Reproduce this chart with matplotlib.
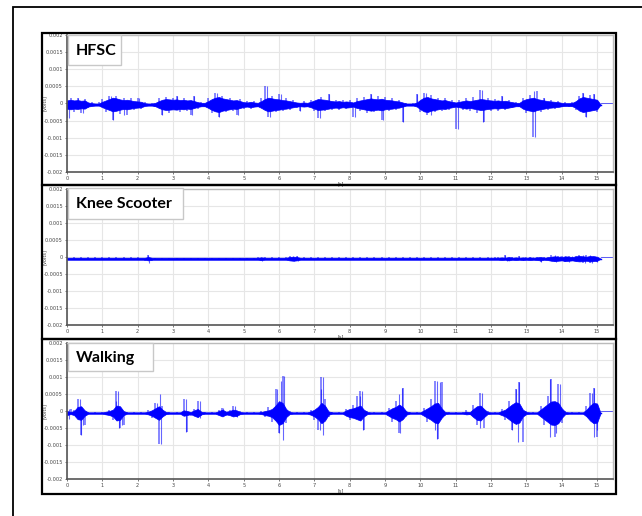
import numpy as np
import matplotlib
matplotlib.use("Agg")
import matplotlib.pyplot as plt
from matplotlib.patches import Rectangle

W, H = 642, 516

# ---------------- data ----------------
# envelope grid: 0.0 .. 15.1 s in 0.1 s steps; values in 0.01 mV
t_grid = np.round(np.arange(0, 152) * 0.1, 1)

# dense core half-amplitude per 0.1 s bin
hfsc_core = [12, 14, 12, 13, 11, 12, 6, 4, 3, 3,
             8, 12, 16, 20, 18, 15, 13, 14, 12, 10,
             9, 8, 4, 3, 3, 5, 10, 14, 16, 15,
             14, 15, 13, 14, 12, 13, 10, 7, 5, 5,
             10, 16, 20, 22, 18, 16, 14, 12, 13, 10,
             7, 6, 8, 6, 5, 10, 16, 20, 18, 16,
             15, 13, 12, 10, 8, 6, 5, 6, 5, 8,
             12, 16, 15, 14, 12, 10, 9, 10, 8, 9,
             8, 6, 10, 12, 14, 16, 18, 16, 15, 17,
             14, 13, 12, 10, 9, 6, 3, 3, 3, 6,
             14, 20, 22, 18, 16, 14, 12, 13, 10, 8,
             6, 8, 10, 12, 10, 12, 14, 16, 15, 13,
             12, 11, 12, 10, 11, 9, 7, 5, 5, 12,
             16, 18, 20, 16, 14, 12, 10, 9, 8, 7,
             5, 4, 4, 5, 10, 18, 22, 20, 18, 16,
             14, 0]
# largest excursion (signed) per 0.1 s bin
hfsc_peak = [-40, 20, -22, 18, -25, 15, -10, 6, -5, 6,
             15, -22, 25, -45, 24, -28, 20, -30, 18, -15,
             20, -14, 6, -5, 5, -8, 18, -30, 22, -25,
             20, 25, -22, 20, -18, -30, 25, -12, 8, -8,
             18, -25, 35, -35, 25, -22, 20, -18, -30, 15,
             -12, 10, -14, 10, -8, 18, 55, -35, 25, -22,
             30, -20, 18, -16, 12, -10, -20, 10, -8, 14,
             -20, -40, 22, -20, 30, -15, 14, -16, 12, -14,
             12, -37, 18, -20, 22, -25, 30, -22, 24, -45,
             22, -20, 18, -16, 14, -50, 5, -5, 5, 30,
             -22, 35, -30, 28, -22, 20, -18, 20, -15, 12,
             -70, 14, -16, 20, -18, 22, -24, 42, -50, 20,
             -18, 16, -20, 25, -16, 14, -10, 8, -8, 18,
             -25, 28, -95, 40, -22, 20, -16, 14, -12, 10,
             -8, 6, -6, 8, -16, 25, 35, -35, 28, 30,
             -22, 0]
# isolated spikes (s, mV)
hfsc_spike_t = [0.07, 0.3, 0.45, 1.25, 1.3, 1.6, 2.05, 2.7, 3.1, 3.55, 3.6, 4.25, 4.3,
                4.85, 5.65, 5.75, 6.05, 6.6, 7.15, 7.4, 8.15, 8.6, 8.95, 9.52, 9.9,
                10.15, 10.3, 11.07, 11.74, 11.76, 12.3, 13.22, 13.23, 13.5, 14.6,
                14.7, 14.9]
hfsc_spike_v = [-0.4, 0.2, -0.25, 0.25, -0.45, -0.3, 0.2, -0.3, 0.25, -0.3, 0.25, 0.35,
                -0.35, -0.3, 0.55, -0.35, 0.3, -0.2, -0.4, 0.3, -0.37, 0.3, -0.45,
                -0.5, 0.3, 0.35, -0.3, -0.7, 0.42, -0.5, 0.25, 0.4, -0.95, 0.2, 0.35,
                -0.35, 0.3]

knee_core = [3] * 22 + [3, 5, 3] + [3] * 29 + [3, 4, 3] + [3] * 6 + [5, 6, 5] + [3] * 56 + \
            [3, 4, 3, 5, 3, 4, 3, 4, 3, 4, 3, 4, 5, 3, 4, 6, 7, 6, 5, 7, 6, 5, 7, 8, 7, 6, 8, 7, 6, 0]
knee_peak = [4, -3] * 11 + [-6, 12, -8] + [3, -4] * 14 + [3] + [5, -6, 5] + [-3, 4] * 3 + \
            [8, -8, 7] + [-3, 4] * 28 + \
            [5, -5, 10, -8, 6, -5, 7, -5, 4, 6, -4, 6, -10, 6, 5, 10, -10, 8, 8, -10,
             8, -7, 8, 10, -12, 12, -12, 8, -10, 0]
knee_spike_t = [2.3, 2.31, 5.5, 5.51, 6.4, 6.42, 6.5, 6.55, 12.0, 12.4, 12.45, 12.6,
                12.8, 12.9, 13.2, 13.4, 13.5, 13.8, 13.85, 13.95, 14.1, 14.2, 14.3,
                14.4, 14.5, 14.6, 14.65, 14.8, 14.85, 14.95, 15.0]
knee_spike_v = [0.12, -0.12, 0.06, -0.06, 0.08, -0.08, 0.07, -0.08, 0.05, 0.1, -0.08,
                0.06, 0.07, -0.05, 0.06, -0.1, 0.06, 0.1, -0.1, 0.08, 0.08, -0.1, 0.08,
                -0.07, 0.08, 0.1, -0.12, 0.12, -0.12, 0.08, -0.1]

walk_core = [6, 3, 6, 18, 20, 8, 2, 2, 2, 2,
             2, 4, 6, 10, 22, 20, 6, 2, 2, 2,
             2, 2, 2, 4, 8, 14, 20, 10, 3, 2,
             2, 2, 2, 8, 6, 3, 8, 12, 4, 2,
             2, 2, 2, 6, 10, 4, 6, 10, 8, 3,
             2, 2, 2, 2, 2, 3, 6, 8, 12, 22,
             35, 30, 12, 3, 2, 2, 2, 2, 2, 5,
             10, 18, 30, 22, 5, 2, 2, 2, 2, 8,
             12, 14, 18, 22, 10, 3, 2, 2, 2, 2,
             2, 8, 14, 18, 25, 18, 5, 2, 2, 2,
             2, 8, 14, 20, 28, 30, 14, 3, 2, 2,
             2, 2, 2, 4, 3, 12, 20, 22, 12, 3,
             2, 2, 2, 6, 10, 18, 26, 32, 28, 10,
             3, 2, 2, 2, 10, 18, 26, 34, 35, 30,
             14, 3, 2, 2, 2, 2, 2, 10, 22, 30,
             28, 0]
walk_peak = [-18, 12, 10, 40, -65, -35, 4, -3, 3, -3,
             3, -6, 10, -20, 65, -45, -35, 3, -3, 3,
             -3, 3, -4, 8, -15, 30, -90, 20, -5, 3,
             -3, 3, -3, 40, -55, -8, 12, 35, -10, 3,
             -3, 3, -4, 10, 15, -8, 10, 20, -12, 5,
             -3, 3, -3, 3, -4, 6, -12, 18, -25, 70,
             -60, 110, -30, 6, -3, 3, -3, 3, -3, 10,
             -20, -50, 105, 40, -12, 3, -3, 3, -3, 12,
             -20, 25, 50, 65, -50, 6, -3, 3, -3, 3,
             -3, 15, -25, 35, -60, 75, -12, 3, -3, 3,
             -3, 15, -25, 40, 95, -75, 90, -8, 3, -3,
             3, -3, 3, 8, -6, 25, -35, 60, -45, 6,
             -3, 3, -3, 12, -20, 35, -50, 70, 90, -85,
             6, -3, 3, -3, 20, -35, 50, 100, -70, 85,
             -30, 6, -3, 3, -3, 3, -3, 20, 60, 75,
             -70, 0]
walk_spike_t = [0.05, 0.05, 0.37, 0.4, 0.45, 1.4, 1.45, 1.47, 1.55, 2.55, 2.63, 2.65,
                3.36, 3.38, 3.76, 3.75, 4.42, 4.75, 4.8, 5.95, 6.05, 6.15, 6.1, 6.0,
                7.24, 7.2, 7.24, 7.15, 8.3, 8.36, 8.38, 9.4, 9.49, 9.41, 10.46, 10.55,
                10.46, 10.4, 11.75, 11.7, 12.7, 12.79, 12.75, 12.6, 13.67, 13.95,
                13.66, 13.85, 14.85, 14.92, 14.9, 15.0]
walk_spike_v = [0.12, -0.18, 0.4, -0.65, -0.35, 0.35, 0.65, -0.45, -0.35, 0.3, 0.55,
                -0.9, 0.4, -0.55, 0.35, -0.15, 0.15, 0.2, -0.12, 0.7, 0.95, 1.1, -0.8,
                -0.6, 1.05, 0.7, -0.65, -0.5, 0.5, 0.65, -0.5, 0.55, 0.75, -0.6, 0.95,
                0.9, -0.75, -0.5, 0.6, -0.45, 0.7, 0.9, -0.85, -0.5, 1.0, 0.85, -0.7,
                -0.6, 0.6, 0.75, -0.7, -0.5]

baselines_mV = [-0.03, -0.05, -0.06]
titles = ["HFSC", "Knee Scooter", "Walking"]
y_ticks = [0.002, 0.0015, 0.001, 0.0005, 0, -0.0005, -0.001, -0.0015, -0.002]
y_ticklabels = ["0.002", "0.0015", "0.001", "0.0005", "0", "-0.0005", "-0.001",
                "-0.0015", "-0.002"]
x_ticks = list(range(0, 16))
signal_end = 15.1
x_max = 15.45

# ---------------- layout helpers ----------------
def fx(x):
    return x / W

def fy(y):
    return 1 - y / H

fig = plt.figure(figsize=(W / 100, H / 100), dpi=100)
fig.patch.set_facecolor("white")

# outer frame (runs off right/bottom edge)
fig.patches.append(Rectangle((fx(13), fy(530)), fx(660 - 13), (530 - 7) / H,
                             transform=fig.transFigure, fill=False, ec="black", lw=1.3))

# panel frames (px: x0, x1, y0, y1)
frames = [(42, 616, 33, 185), (42, 616, 185, 339), (42, 616, 339, 494)]
for x0, x1, y0, y1 in frames:
    fig.patches.append(Rectangle((fx(x0), fy(y1)), fx(x1 - x0), (y1 - y0) / H,
                                 transform=fig.transFigure, fill=False, ec="black", lw=1.6))

# axes positions (px: left, right, top, bottom)
axes_px = [(67, 613, 35, 172), (67, 613, 189, 325), (67, 613, 343, 479)]
# label boxes (px: x0, x1, y0, y1)
label_px = [(68, 121, 35, 65), (68, 183, 188, 219), (68, 153, 343, 371)]

cores = [hfsc_core, knee_core, walk_core]
peaks = [hfsc_peak, knee_peak, walk_peak]
spikes = [(hfsc_spike_t, hfsc_spike_v), (knee_spike_t, knee_spike_v),
          (walk_spike_t, walk_spike_v)]

blue = "#0000ff"
for i in range(3):
    l, r, t, b = axes_px[i]
    ax = fig.add_axes([fx(l), fy(b), fx(r - l), (b - t) / H])
    ax.set_xlim(0, x_max)
    ax.set_ylim(-0.002, 0.002)
    ax.set_yticks(y_ticks)
    ax.set_yticklabels(y_ticklabels)
    ax.set_xticks(x_ticks)
    ax.set_xticklabels([str(v) for v in x_ticks])
    ax.tick_params(labelsize=3.6, colors="#444444", length=1.5, width=0.5, pad=1.5)
    ax.grid(True, color="#e6e6e6", lw=0.8)
    ax.set_axisbelow(True)
    for s in ["top", "right"]:
        ax.spines[s].set_color("#bbbbbb")
        ax.spines[s].set_linewidth(1.0)
    for s in ["left", "bottom"]:
        ax.spines[s].set_color("#555555")
        ax.spines[s].set_linewidth(1.2)

    base = baselines_mV[i] / 1000.0
    core = np.array(cores[i]) / 100000.0
    peak = np.array(peaks[i]) / 100000.0
    ax.vlines(t_grid, base, base + peak, color=blue, lw=1.1, alpha=0.6)
    ax.fill_between(t_grid, base - core, base + core, color=blue, lw=0.5, alpha=1.0)
    ax.plot([0, signal_end], [base, base], color=blue, lw=1.0)
    ax.plot([signal_end, x_max], [0, 0], color=blue, lw=0.6, alpha=0.7)
    st, sv = spikes[i]
    ax.vlines(st, base, base + np.array(sv) / 1000.0, color=blue, lw=0.8, alpha=0.6)

    ax.set_xlabel("[s]", fontsize=3.6, color="#444444", labelpad=0)
    ax.xaxis.set_label_coords((341 - l) / (r - l), -0.07)
    ax.set_ylabel("[Volts]", fontsize=3.6, color="#444444", labelpad=1)
    ax.yaxis.set_label_coords(-(l - 47) / (r - l), 0.5)

    x0, x1, y0, y1 = label_px[i]
    fig.patches.append(Rectangle((fx(x0), fy(y1)), fx(x1 - x0), (y1 - y0) / H,
                                 transform=fig.transFigure, fc="white", ec="#c8c8c8",
                                 lw=1.0, zorder=5))
    fig.text(fx(x0 + 8), fy((y0 + y1) / 2 + 1), titles[i], fontsize=11.5,
             fontweight="bold", family=["Lato", "DejaVu Sans"], color="black",
             va="center", ha="left", zorder=6)

fig.savefig("out.png", dpi=100, facecolor="white")
